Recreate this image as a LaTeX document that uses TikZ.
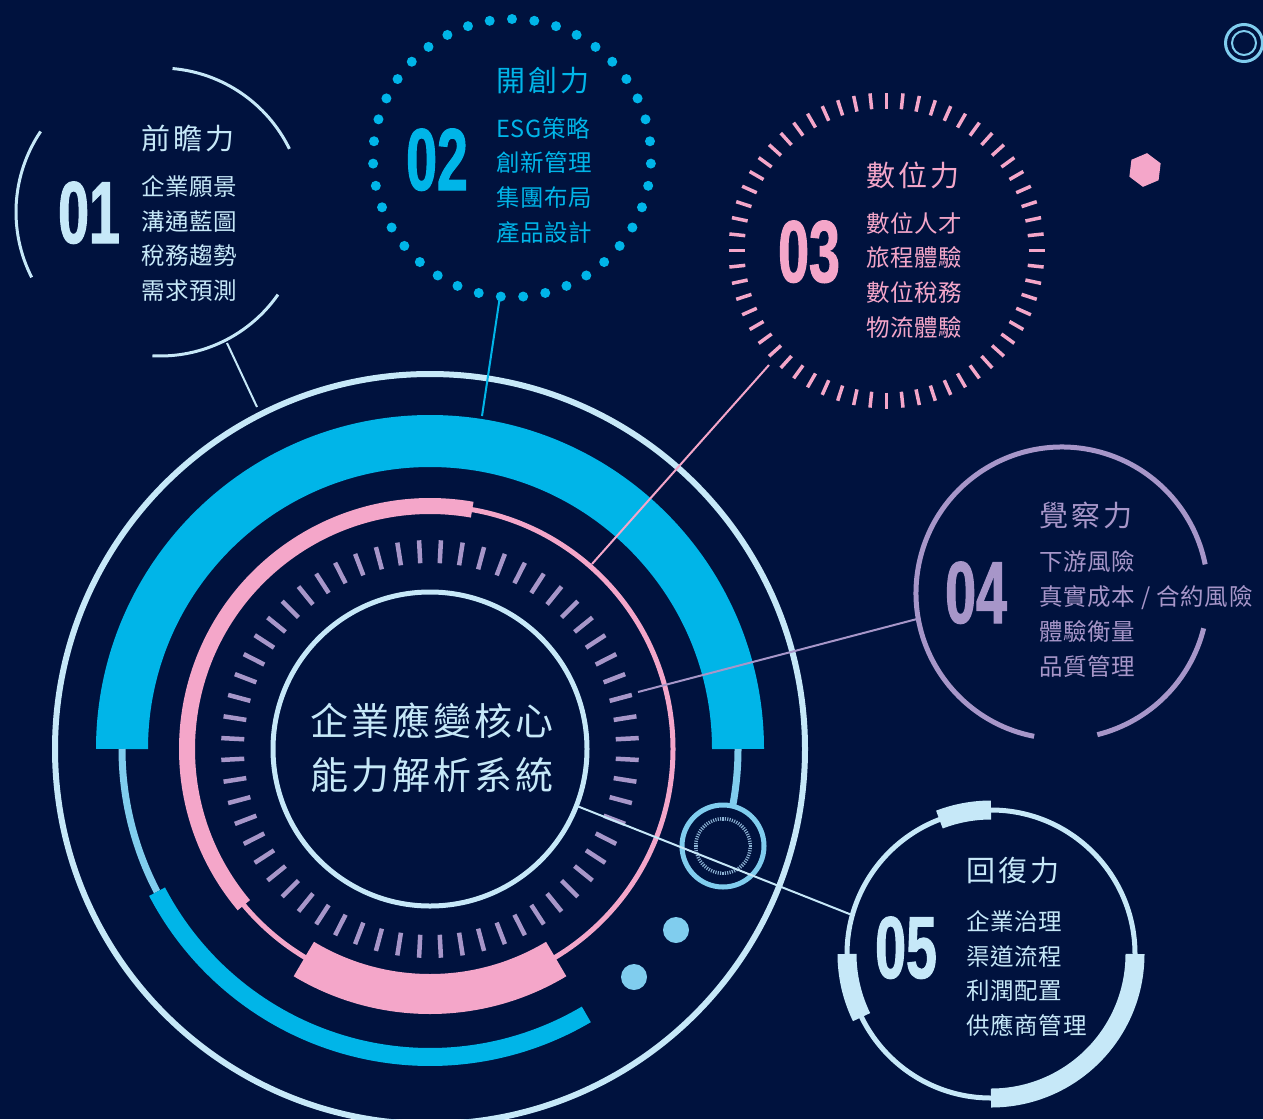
\documentclass[tikz,border=0pt]{standalone}
\usepackage{fontspec}
\newfontfamily\cjktitle[LetterSpace=11]{Noto Sans CJK TC}
\newfontfamily\cjkitem[LetterSpace=3]{Noto Sans CJK TC}
\newfontfamily\cjkcenter[LetterSpace=8]{Noto Sans CJK TC}
\newfontfamily\numfont[FakeStretch=0.63,FakeBold=1.2]{Liberation Sans Bold}
\definecolor{bg}{RGB}{0,18,62}
\definecolor{cyanb}{RGB}{0,181,232}
\definecolor{sky}{RGB}{128,205,238}
\definecolor{lightb}{RGB}{198,232,248}
\definecolor{pinkc}{RGB}{244,166,201}
\definecolor{lav}{RGB}{167,150,201}
\definecolor{tickgray}{RGB}{140,178,212}
\newcommand\myarc[5]{\draw[#1] (#2) ++(#3:#5) arc[start angle=#3, end angle=#4, radius=#5];}
\begin{document}
\begin{tikzpicture}[x=1pt,y=-1pt,
  num/.style={font=\numfont\fontsize{88}{88}\selectfont, inner sep=0pt, anchor=base west},
  ttl/.style={font=\cjktitle\fontsize{29}{29}\selectfont, inner sep=0pt, anchor=base west},
  itm/.style={font=\cjkitem\fontsize{23.5}{23.5}\selectfont, inner sep=0pt, anchor=base west},
  ctr/.style={font=\cjkcenter\fontsize{38}{38}\selectfont, inner sep=0pt, anchor=base, text=lightb},
  conn/.style={line width=2pt},
  mtick/.style={lav, line width=4.5pt},
  ptick/.style={pinkc, line width=3.5pt}
]
\fill[bg] (0,0) rectangle (1263,1119);
\useasboundingbox (0,0) rectangle (1263,1119);

% ---------- main system ----------
\coordinate (M) at (430,749);
\draw[lightb, line width=6pt] (M) circle[radius=375];
\myarc{cyanb, line width=52pt}{M}{-180}{0}{308}
\myarc{sky, line width=7pt}{M}{-207.6}{-180}{308}
\myarc{sky, line width=7pt}{M}{0}{18.3}{308}
\myarc{cyanb, line width=18pt}{M}{-300.5}{-207.6}{308}
\draw[pinkc, line width=5pt] (M) circle[radius=243];
\myarc{pinkc, line width=16pt}{M}{-220}{-80}{243}
\myarc{pinkc, line width=40pt}{M}{-301}{-239}{245}
\foreach \a in {3,9,...,357} \draw[mtick, shift={(M)}] (\a:186) -- (\a:209);
\draw[lightb, line width=5pt] (M) circle[radius=157];
\node[ctr] (ct1) at (432,735.5) {企業應變核心};
\node[ctr] (ct2) at (432,789) {能力解析系統};

% small ring on the track
\coordinate (S) at (723,846);
\draw[sky, line width=5pt, fill=bg] (S) circle[radius=41];
\foreach \a in {0,5,...,355} \draw[tickgray, line width=1.1pt, shift={(S)}] (\a:25.5) -- (\a:29);
\fill[sky] (676,930) circle[radius=13];
\fill[sky] (634,977) circle[radius=13];

% decorations
\coordinate (TR) at (1244,43);
\draw[sky, line width=3pt] (TR) circle[radius=18.5];
\draw[sky, line width=2pt] (TR) circle[radius=12];
\coordinate (H) at (1145,170);
\fill[pinkc, shift={(H)}] (-83:17) -- (-23:17) -- (37:17) -- (97:17) -- (157:17) -- (217:17) -- cycle;

% ---------- circle 1 ----------
\coordinate (C1) at (160,212);
\myarc{lightb, line width=3pt}{C1}{-85}{-26}{144}
\myarc{lightb, line width=3pt}{C1}{-207}{-146}{144}
\myarc{lightb, line width=3pt}{C1}{-325}{-267}{144}
\node[num, text=lightb] (n1) at (58,243) {01};
\node[ttl, text=lightb] (t1) at (141,149.5) {前瞻力};
\foreach \t [count=\i] in {企業願景,溝通藍圖,稅務趨勢,需求預測}
  \node[itm, text=lightb] (c1i\i) at (141,{195.5+34.5*(\i-1)}) {\t};

% ---------- circle 2 ----------
\coordinate (C2) at (512,158);
\foreach \k in {0,...,38} \fill[cyanb, shift={(C2)}] ({-90+\k*360/39}:139) circle[radius=5];
\node[num, text=cyanb] (n2) at (406,190) {02};
\node[ttl, text=cyanb] (t2) at (496,91.5) {開創力};
\foreach \t [count=\i] in {ESG策略,創新管理,集團布局,產品設計}
  \node[itm, text=cyanb] (c2i\i) at (496,{137+34.7*(\i-1)}) {\t};

% ---------- circle 3 ----------
\coordinate (C3) at (886.5,250.5);
\foreach \a in {0,6,...,354} \draw[ptick, shift={(C3)}] (\a:142) -- (\a:158);
\node[num, text=pinkc] (n3) at (778,282) {03};
\node[ttl, text=pinkc] (t3) at (866,186.5) {數位力};
\foreach \t [count=\i] in {數位人才,旅程體驗,數位稅務,物流體驗}
  \node[itm, text=pinkc] (c3i\i) at (866,{232+34.7*(\i-1)}) {\t};

% ---------- circle 4 ----------
\coordinate (C4) at (1062,593);
\myarc{lav, line width=5pt}{C4}{-259}{-11.3}{146}
\myarc{lav, line width=5pt}{C4}{-346}{-284}{146}
\node[num, text=lav] (n4) at (945,623) {04};
\node[ttl, text=lav] (t4) at (1039,526) {覺察力};
\foreach \t [count=\i] in {下游風險,真實成本 / 合約風險,體驗衡量,品質管理}
  \node[itm, text=lav] (c4i\i) at (1039,{570.5+35*(\i-1)}) {\t};

% ---------- circle 5 ----------
\coordinate (C5) at (991,954);
\draw[lightb, line width=5pt] (C5) circle[radius=144];
\myarc{lightb, line width=19pt}{C5}{-111}{-90}{144}
\myarc{lightb, line width=19pt}{C5}{-206}{-180}{144}
\myarc{lightb, line width=19pt}{C5}{0}{90}{144}
\node[num, text=lightb] (n5) at (875,978) {05};
\node[ttl, text=lightb] (t5) at (966,881.5) {回復力};
\foreach \t [count=\i] in {企業治理,渠道流程,利潤配置,供應商管理}
  \node[itm, text=lightb] (c5i\i) at (966,{930.5+34.5*(\i-1)}) {\t};

% ---------- connectors ----------
\coordinate (a1) at (227,343); \coordinate (b1) at (257,407);
\coordinate (a2) at (500,296); \coordinate (b2) at (482,416);
\coordinate (a3) at (769,365); \coordinate (b3) at (592,564);
\coordinate (a4) at (917,619); \coordinate (b4) at (638,692);
\coordinate (a5) at (852,915); \coordinate (b5) at (577,806);
\draw[conn, lightb] (a1) -- (b1);
\draw[conn, cyanb] (a2) -- (b2);
\draw[conn, pinkc] (a3) -- (b3);
\draw[conn, lav] (a4) -- (b4);
\draw[conn, lightb] (a5) -- (b5);
\end{tikzpicture}
\end{document}
